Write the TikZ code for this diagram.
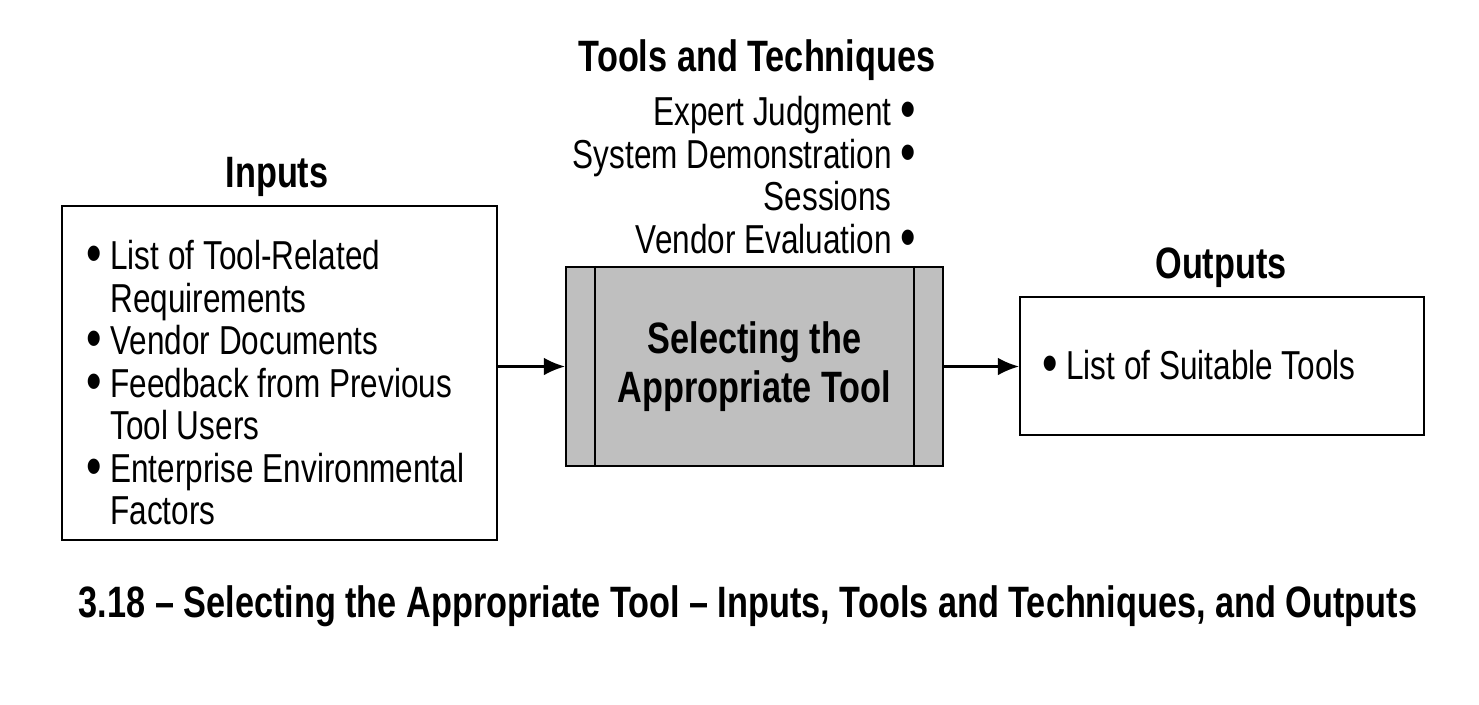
\documentclass[tikz,border=0pt]{standalone}
\usepackage{fontspec}
\setmainfont[FakeStretch=0.78]{Liberation Sans}
\usetikzlibrary{positioning,arrows.meta}
\newcommand\itembul{\raisebox{-0.08em}{\scalebox{1.4}{\textbullet}}}
\begin{document}
\begin{tikzpicture}[x=0.02cm,y=-0.02cm,
	box/.style={draw, very thick, minimum width=#1},
	title/.style={font=\fontsize{25}{25}\selectfont\bfseries},
	txt/.style={font=\fontsize{23}{24.2}\selectfont},
	flow/.style={-{Latex[length=12pt,width=10pt]}, very thick}]
	\useasboundingbox (0,0) rectangle (1479,704);

		% inputs
		\node[box=8.7cm, minimum height=6.68cm] (inputs) at (279.5,373) {};
		\node[title] (inputstitle) at (277,177) {Inputs};
		\node[txt, align=left, anchor=north west] (inputslist) at (80,234) {
			\itembul\ List of Tool-Related\\
			\hphantom{\itembul\ }Requirements\\
			\itembul\ Vendor Documents\\
			\itembul\ Feedback from Previous\\
			\hphantom{\itembul\ }Tool Users\\
			\itembul\ Enterprise Environmental\\
			\hphantom{\itembul\ }Factors};

		% process
		\node[box=7.54cm, minimum height=3.98cm, fill=gray!50] (process) at (754.5,366.5) {};
		\draw[very thick] ([xshift=0.6cm]process.north west) -- ([xshift=0.6cm]process.south west);
		\draw[very thick] ([xshift=-0.6cm]process.north east) -- ([xshift=-0.6cm]process.south east);
		\node[align=center, font=\fontsize{25}{28}\selectfont\bfseries] (processtext) at (754.5,366.5) {Selecting the\\Appropriate Tool};

		% tools and techniques
		\node[title] (toolstitle) at (757,60) {Tools and Techniques};
		\node[txt, align=right, anchor=north east] (toolslist) at (922,90) {
			Expert Judgment \itembul\\
			System Demonstration \itembul\\
			Sessions\hphantom{ \itembul}\\
			Vendor Evaluation \itembul};

		% outputs
		\node[box=8.08cm, minimum height=2.76cm] (outputs) at (1222,366) {};
		\node[title] (outputstitle) at (1221,268) {Outputs};
		\node[txt, anchor=west] (outputslist) at (1036,366) {\itembul\ List of Suitable Tools};

		\draw[flow] (inputs.east |- process) -- (process);
		\draw[flow] (process) -- (outputs.west |- process);

		\node[font=\fontsize{25}{25}\selectfont\bfseries] (caption) at (748,606)
			{3.18 – Selecting the Appropriate Tool – Inputs, Tools and Techniques, and Outputs};

	\end{tikzpicture}
\end{document}
